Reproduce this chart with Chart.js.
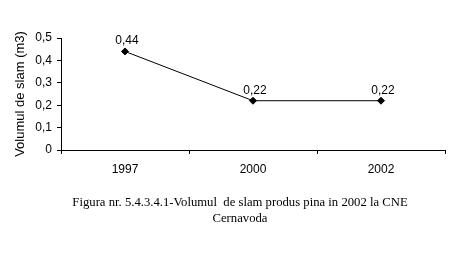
<!DOCTYPE html>
<html>
<head>
<meta charset="utf-8">
<script src="https://cdn.jsdelivr.net/npm/chart.js@4/dist/chart.umd.min.js"></script>
<style>
  html, body { margin: 0; padding: 0; background: #fff; }
  #wrap { width: 467px; height: 263px; }
</style>
</head>
<body>
<div id="wrap"><canvas id="chart" width="467" height="263"></canvas></div>
<script>
// Date
const years = ['1997', '2000', '2002'];
const sludgeVolume = [0.44, 0.22, 0.22];
const yTitle = 'Volumul de slam (m3)';
const caption = [
  'Figura nr. 5.4.3.4.1-Volumul  de slam produs pina in 2002 la CNE',
  'Cernavoda'
];

const sans = '"Liberation Sans", Arial, sans-serif';
const serif = '"Liberation Serif", "Times New Roman", serif';
const fmt = v => String(Math.round(v * 100) / 100).replace('.', ',');

// Etichete de valoare deasupra punctelor
const valueLabels = {
  id: 'valueLabels',
  afterDatasetsDraw(chart) {
    const ctx = chart.ctx;
    const meta = chart.getDatasetMeta(0);
    ctx.save();
    ctx.font = '12px ' + sans;
    ctx.fillStyle = '#000';
    ctx.textAlign = 'center';
    ctx.textBaseline = 'alphabetic';
    meta.data.forEach((pt, i) => {
      ctx.fillText(fmt(sludgeVolume[i]), pt.x + 2, pt.y - 7);
    });
    ctx.restore();
  }
};

// Legenda figurii sub grafic (centrata pe pagina, nu pe zona graficului)
const figureCaption = {
  id: 'figureCaption',
  afterDraw(chart) {
    const ctx = chart.ctx;
    ctx.save();
    ctx.font = '12.7px ' + serif;
    ctx.fillStyle = '#000';
    ctx.textAlign = 'center';
    ctx.textBaseline = 'middle';
    caption.forEach((line, i) => {
      ctx.fillText(line, 240, chart.chartArea.bottom + 53 + i * 16);
    });
    ctx.restore();
  }
};

new Chart(document.getElementById('chart'), {
  type: 'line',
  data: {
    labels: years,
    datasets: [{
      data: sludgeVolume,
      borderColor: '#000',
      borderWidth: 1,
      backgroundColor: '#000',
      pointStyle: 'rectRot',
      pointRadius: 3.5,
      pointBackgroundColor: '#000',
      pointBorderColor: '#000',
      tension: 0
    }]
  },
  options: {
    responsive: false,
    animation: false,
    layout: { padding: { left: 0, top: 38, right: 22, bottom: 68 } },
    plugins: {
      legend: { display: false },
      tooltip: { enabled: false },
      title: { display: false }
    },
    scales: {
      x: {
        offset: true,
        grid: { display: true, offset: true, drawOnChartArea: false, drawTicks: true, tickLength: 4, color: '#000' },
        border: { color: '#000', width: 1 },
        ticks: { color: '#000', padding: 8, font: { family: sans, size: 12 } },
        afterFit(scale) { scale.height = 45; }
      },
      y: {
        min: 0,
        max: 0.5,
        grid: { display: true, drawOnChartArea: false, drawTicks: true, tickLength: 4, color: '#000' },
        border: { color: '#000', width: 1 },
        ticks: {
          stepSize: 0.1,
          color: '#000',
          padding: 5,
          font: { family: sans, size: 12 },
          callback: v => fmt(v)
        },
        title: {
          display: true,
          text: yTitle,
          color: '#000',
          font: { family: sans, size: 13 },
          padding: { top: 13, bottom: 0 }
        },
        afterFit(scale) { scale.width = 61; }
      }
    }
  },
  plugins: [valueLabels, figureCaption]
});
</script>
</body>
</html>
